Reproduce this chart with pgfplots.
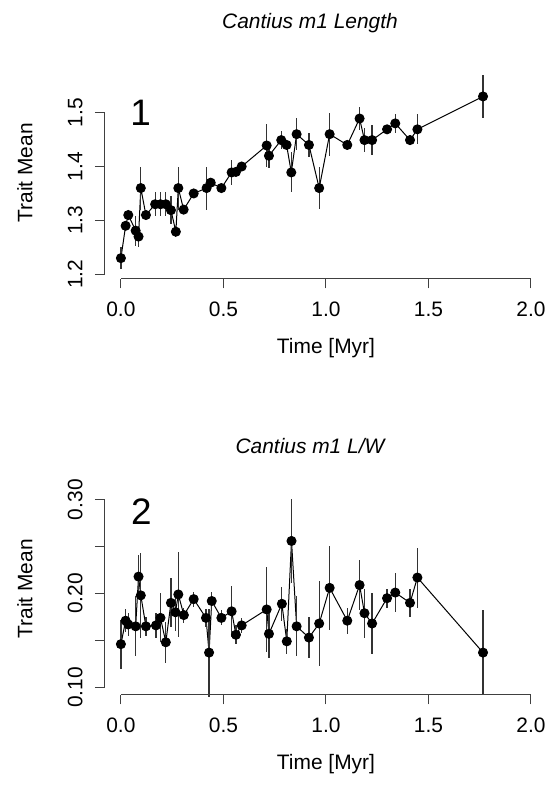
\documentclass[border=0pt]{standalone}
\usepackage{fontspec}
\setmainfont{Liberation Sans}
\usepackage{pgfplots}
\pgfplotsset{compat=1.18}
\usepackage{pgfplotstable}

\pgfplotstableread{
t v e
0.000 1.230 0.020
0.023 1.290 0.008
0.036 1.310 0.008
0.072 1.281 0.028
0.086 1.270 0.020
0.097 1.360 0.040
0.122 1.310 0.008
0.167 1.330 0.022
0.193 1.330 0.022
0.219 1.330 0.022
0.244 1.319 0.026
0.268 1.279 0.010
0.280 1.360 0.040
0.306 1.320 0.008
0.355 1.350 0.008
0.418 1.360 0.040
0.438 1.370 0.008
0.490 1.360 0.008
0.540 1.389 0.023
0.561 1.390 0.008
0.589 1.400 0.008
0.711 1.439 0.040
0.722 1.420 0.023
0.782 1.449 0.016
0.808 1.440 0.008
0.831 1.389 0.037
0.857 1.460 0.030
0.917 1.440 0.022
0.967 1.360 0.039
1.018 1.460 0.040
1.104 1.440 0.008
1.164 1.489 0.022
1.188 1.449 0.022
1.225 1.449 0.028
1.298 1.469 0.008
1.338 1.480 0.018
1.410 1.449 0.010
1.446 1.469 0.028
1.766 1.530 0.040
}\toplen

\pgfplotstableread{
t v e
0.000 0.146 0.026
0.023 0.171 0.012
0.036 0.167 0.012
0.072 0.165 0.032
0.086 0.218 0.023
0.097 0.198 0.045
0.122 0.165 0.010
0.171 0.166 0.013
0.193 0.174 0.026
0.219 0.148 0.022
0.244 0.190 0.026
0.266 0.180 0.020
0.280 0.199 0.045
0.307 0.177 0.008
0.355 0.194 0.008
0.415 0.174 0.010
0.430 0.137 0.047
0.443 0.192 0.010
0.490 0.174 0.008
0.540 0.181 0.027
0.561 0.156 0.010
0.589 0.166 0.008
0.711 0.183 0.045
0.722 0.157 0.026
0.785 0.189 0.018
0.809 0.149 0.013
0.832 0.256 0.045
0.857 0.165 0.032
0.917 0.153 0.022
0.967 0.168 0.045
1.018 0.206 0.045
1.104 0.171 0.014
1.164 0.209 0.027
1.188 0.179 0.026
1.225 0.168 0.032
1.298 0.195 0.010
1.338 0.201 0.021
1.410 0.190 0.015
1.446 0.217 0.032
1.766 0.137 0.045
}\lwratio

\tikzset{raxis/.style={black!75, line width=1bp}}
\pgfplotsset{
  rstyle/.style={
    scale only axis, width=442.9bp, height=212.2bp, anchor=south west,
    clip=false,
    axis x line*=bottom, axis y line*=left,
    axis line style={draw=none},
    tick align=outside, major tick length=9.5bp,
    tick style={black!75, line width=1bp},
    xmin=-0.08, xmax=2.08,
    xtick={0,0.5,1,1.5,2}, xticklabels={0.0,0.5,1.0,1.5,2.0},
    ticklabel style={font=\fontsize{21}{25}\selectfont},
    xticklabel shift=10bp,
    yticklabel style={rotate=90, anchor=south},
    yticklabel shift=9bp,
    label style={font=\fontsize{21}{25}\selectfont},
    xlabel={Time [Myr]},
    xlabel style={at={(axis description cs:0.5,-0.3252)}, anchor=center},
    ylabel={Trait Mean},
    ylabel style={at={(axis description cs:-0.1795,0.5)}, anchor=center, rotate=0},
    title style={font=\fontsize{21}{25}\selectfont\itshape, anchor=center},
  },
  rplot/.style={black, line width=1bp, mark=*, mark size=4.5bp,
    mark options={solid, fill=black},
    error bars/.cd, y dir=both, y explicit, error mark=none,
    error bar style={line width=1.2bp, black!80}},
}

\begin{document}
\begin{tikzpicture}
\path[use as bounding box] (0,0) rectangle (550bp,795bp);
\begin{axis}[rstyle, at={(104.5bp,516bp)},
  ymin=1.1913, ymax=1.585,
  ytick={1.2,1.3,1.4,1.5}, yticklabels={1.2,1.3,1.4,1.5},
  title={Cantius m1 Length},
  title style={at={(axis description cs:0.464,1.180)}}]
\addplot+[rplot] table[x=t, y=v, y error=e] {\toplen};
\draw[raxis] (axis cs:0,1.1913) -- (axis cs:2,1.1913);
\draw[raxis] (axis cs:-0.08,1.2) -- (axis cs:-0.08,1.5);
\node[font=\fontsize{37}{40}\selectfont] at (axis cs:0.096,1.499) {1};
\end{axis}
\begin{axis}[rstyle, at={(104.5bp,100bp)},
  ymin=0.0918, ymax=0.318,
  ytick={0.10,0.15,0.20,0.25,0.30}, yticklabels={0.10,,0.20,,0.30},
  title={Cantius m1 L/W},
  title style={at={(axis description cs:0.464,1.145)}}]
\addplot+[rplot] table[x=t, y=v, y error=e] {\lwratio};
\draw[raxis] (axis cs:0,0.0918) -- (axis cs:2,0.0918);
\draw[raxis] (axis cs:-0.08,0.10) -- (axis cs:-0.08,0.30);
\node[font=\fontsize{37}{40}\selectfont] at (axis cs:0.100,0.2875) {2};
\end{axis}
\end{tikzpicture}
\end{document}
